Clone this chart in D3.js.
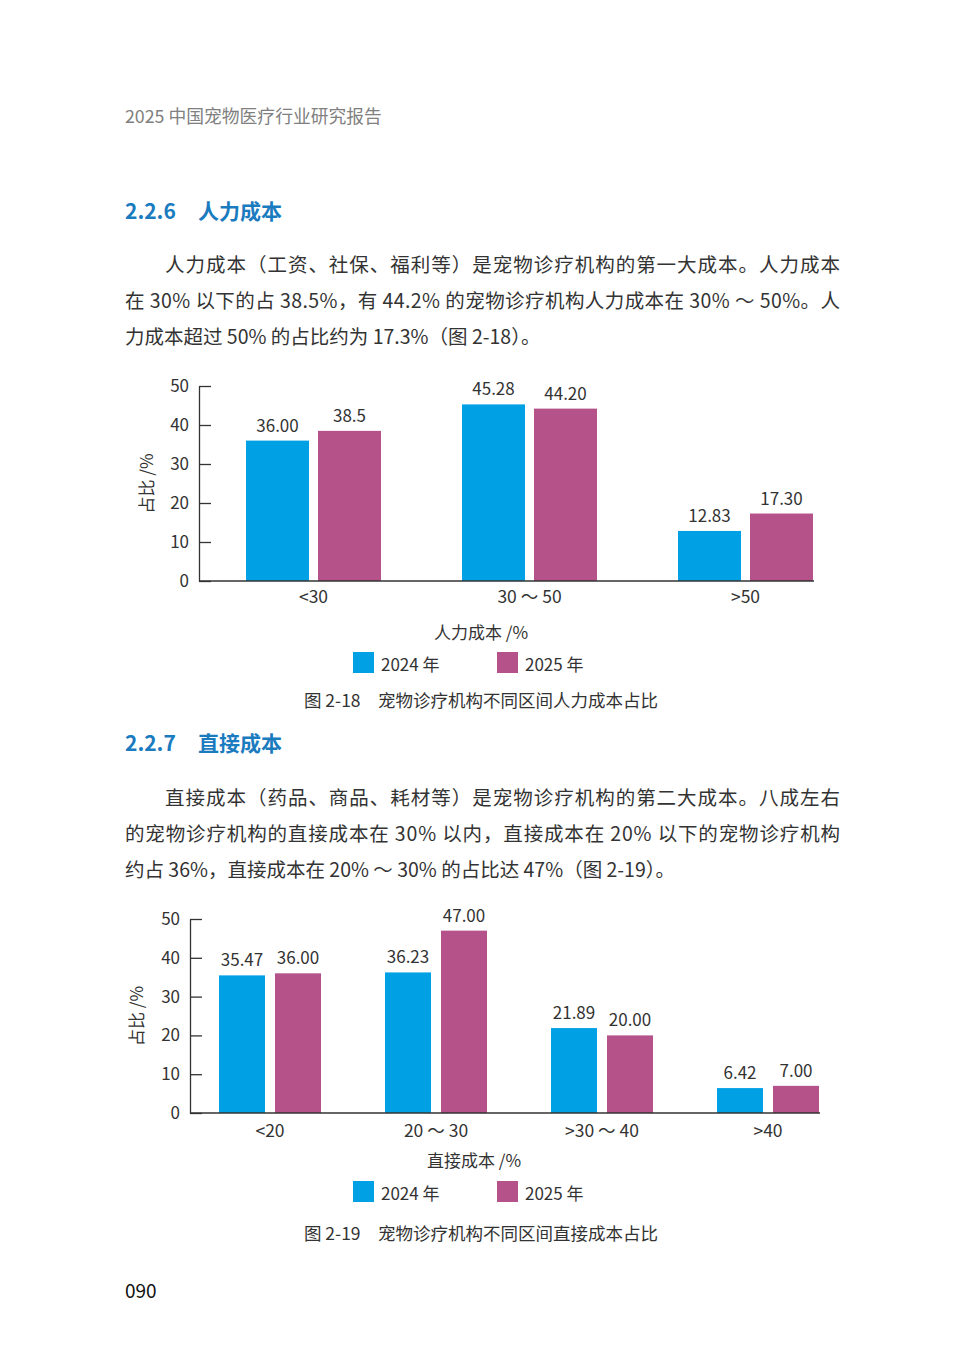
<!DOCTYPE html>
<html lang="zh">
<head>
<meta charset="utf-8">
<script src="https://d3js.org/d3.v7.min.js"></script>
<style>
  body { margin: 0; background: #fff; }
  svg { display: block; font-family: "Noto Sans CJK SC", "Noto Sans", sans-serif; }
</style>
</head>
<body>
<svg id="page" width="963" height="1360"></svg>
<script>
// chart data
var years = ["2024 年", "2025 年"];
var labourCats = ["<30", "30 ～ 50", ">50"];
var labour2024 = [36.00, 45.28, 12.83];
var labour2025 = [38.5, 44.20, 17.30];
var labourText2024 = ["36.00", "45.28", "12.83"];
var labourText2025 = ["38.5", "44.20", "17.30"];

var directCats = ["<20", "20 ～ 30", ">30 ～ 40", ">40"];
var direct2024 = [35.47, 36.23, 21.89, 6.42];
var direct2025 = [36.00, 47.00, 20.00, 7.00];
var directText2024 = ["35.47", "36.23", "21.89", "6.42"];
var directText2025 = ["36.00", "47.00", "20.00", "7.00"];

var yTicks = [0, 10, 20, 30, 40, 50];
var colors = ["#00a0e4", "#b5528a"];
var ink = "#333";

var svg = d3.select("#page");

// page texts
svg.append("text").attr("x", 125).attr("y", 115).attr("dominant-baseline", "central")
  .style("font-size", "17.8px").attr("fill", "#808080").text("2025 中国宠物医疗行业研究报告");

function heading(y, num, title) {
  svg.append("text").attr("x", 125).attr("y", y).attr("dominant-baseline", "central")
    .style("font-size", "21px").attr("font-weight", "bold").attr("fill", "#1a7bbf").text(num);
  svg.append("text").attr("x", 198).attr("y", y).attr("dominant-baseline", "central")
    .style("font-size", "21px").attr("font-weight", "bold").attr("fill", "#1a7bbf").text(title);
}

// lines: [x, y, text, justifiedWidth or null]
function paragraph(lines) {
  lines.forEach(function (l) {
    var t = svg.append("text").attr("x", l[0]).attr("y", l[1])
      .attr("dominant-baseline", "central")
      .style("font-size", "19.5px").attr("fill", ink).text(l[2]);
    if (l[3]) t.attr("textLength", l[3]).attr("lengthAdjust", "spacing");
  });
}

heading(210, "2.2.6", "人力成本");
paragraph([
  [165, 263, "人力成本（工资、社保、福利等）是宠物诊疗机构的第一大成本。人力成本", 675],
  [125, 299, "在 30% 以下的占 38.5%，有 44.2% 的宠物诊疗机构人力成本在 30% ～ 50%。人", 715],
  [125, 335, "力成本超过 50% 的占比约为 17.3%（图 2-18）。", null]
]);

heading(742, "2.2.7", "直接成本");
paragraph([
  [165, 796, "直接成本（药品、商品、耗材等）是宠物诊疗机构的第二大成本。八成左右", 675],
  [125, 832, "的宠物诊疗机构的直接成本在 30% 以内，直接成本在 20% 以下的宠物诊疗机构", 715],
  [125, 868, "约占 36%，直接成本在 20% ～ 30% 的占比达 47%（图 2-19）。", null]
]);

svg.append("text").attr("x", 125).attr("y", 1289).attr("dominant-baseline", "central")
  .style("font-size", "19px").attr("fill", "#111").text("090");

// grouped bar chart
function drawChart(o) {
  var y = d3.scaleLinear().domain([0, 50]).range([o.base, o.top]);
  var x0 = d3.scaleBand().domain(o.cats).range([o.bandStart, o.bandEnd])
    .paddingInner(o.padInner).paddingOuter(0);
  var x1 = d3.scaleBand().domain([0, 1]).range([0, x0.bandwidth()]).paddingInner(o.padSub);
  var g = svg.append("g");

  var rows = o.cats.map(function (c, i) {
    return { cat: c, vals: [o.v1[i], o.v2[i]], txt: [o.t1[i], o.t2[i]] };
  });

  var grp = g.selectAll(".grp").data(rows).enter().append("g")
    .attr("transform", function (d) { return "translate(" + x0(d.cat) + ",0)"; });

  grp.selectAll("rect").data(function (d) { return d.vals; }).enter().append("rect")
    .attr("x", function (d, i) { return x1(i); })
    .attr("y", function (d) { return y(d); })
    .attr("width", x1.bandwidth())
    .attr("height", function (d) { return o.base - y(d); })
    .attr("fill", function (d, i) { return colors[i]; });

  grp.each(function (d) {
    d3.select(this).selectAll(".val").data(d.vals).enter().append("text")
      .attr("x", function (v, i) { return x1(i) + x1.bandwidth() / 2; })
      .attr("y", function (v) { return y(v) - 9; })
      .attr("text-anchor", "middle")
      .style("font-size", "17px").attr("fill", ink)
      .text(function (v, i) { return d.txt[i]; });
  });

  // y axis, ticks pointing inward
  var ya = g.append("g").attr("transform", "translate(" + o.axisX + ",0)")
    .call(d3.axisLeft(y).tickValues(yTicks).tickSizeInner(-12).tickSizeOuter(0).tickPadding(10));
  ya.selectAll("path, line").attr("stroke", ink).attr("stroke-width", 1.3);
  ya.selectAll("text").style("font-size", "17px").attr("fill", ink)
    .style("font-family", "'Noto Sans CJK SC', sans-serif");

  // baseline
  g.append("line").attr("x1", o.axisX).attr("x2", o.bandEnd + 1)
    .attr("y1", o.base).attr("y2", o.base).attr("stroke", ink).attr("stroke-width", 1.5);

  // category labels
  var xa = g.append("g").attr("transform", "translate(0," + o.base + ")")
    .call(d3.axisBottom(x0).tickSize(0).tickPadding(o.labelPad));
  xa.select(".domain").remove();
  xa.selectAll("text").style("font-size", "17.5px").attr("fill", ink)
    .style("font-family", "'Noto Sans CJK SC', sans-serif");

  // axis titles
  g.append("text").attr("transform", "translate(" + o.yTitleX + "," + ((o.top + o.base) / 2) + ") rotate(-90)")
    .attr("text-anchor", "middle").attr("dominant-baseline", "central")
    .style("font-size", "17px").attr("fill", ink).text("占比 /%");
  g.append("text").attr("x", o.xTitleX).attr("y", o.xTitleY).attr("text-anchor", "middle")
    .attr("dominant-baseline", "central").style("font-size", "17px").attr("fill", ink).text(o.xTitle);

  // legend
  var lx = [353, 497];
  years.forEach(function (yr, i) {
    g.append("rect").attr("x", lx[i]).attr("y", o.legendY - 11).attr("width", 21).attr("height", 21)
      .attr("fill", colors[i]);
    g.append("text").attr("x", lx[i] + 28).attr("y", o.legendY).attr("dominant-baseline", "central")
      .style("font-size", "17px").attr("fill", ink).text(yr);
  });

  // caption
  g.append("text").attr("x", 481).attr("y", o.captionY).attr("text-anchor", "middle")
    .attr("dominant-baseline", "central").style("font-size", "17.5px").attr("fill", ink)
    .attr("xml:space", "preserve").text(o.caption);
}

drawChart({
  cats: labourCats, v1: labour2024, v2: labour2025, t1: labourText2024, t2: labourText2025,
  top: 386, base: 581, axisX: 199, bandStart: 246, bandEnd: 813,
  padInner: 0.375, padSub: 0.125, labelPad: 10,
  yTitleX: 145, xTitle: "人力成本 /%", xTitleX: 481, xTitleY: 631,
  legendY: 663, captionY: 699, caption: "图 2-18　宠物诊疗机构不同区间人力成本占比"
});

drawChart({
  cats: directCats, v1: direct2024, v2: direct2025, t1: directText2024, t2: directText2025,
  top: 919, base: 1113, axisX: 190, bandStart: 219, bandEnd: 819,
  padInner: 0.3855, padSub: 0.1786, labelPad: 12,
  yTitleX: 135, xTitle: "直接成本 /%", xTitleX: 474, xTitleY: 1159,
  legendY: 1192, captionY: 1232, caption: "图 2-19　宠物诊疗机构不同区间直接成本占比"
});
</script>
</body>
</html>
